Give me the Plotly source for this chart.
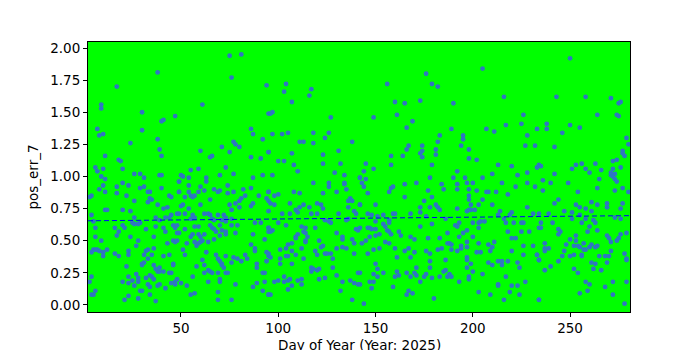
import numpy as np
import plotly.graph_objects as go

# ---- data (day of year, pos_err_7) ----
days_a = [38,17,9,9,30,47,41,40,7,30,8,10,38,24,39,11,40,18,19,6,20,10,7,9,26,29,31,11,20,23,10,8,17,29,31,49,39,40,40,11,17,4,3,33,34,22,44,45,49,35,34,33,26,38,41,43,11,12,20,24,4,45,44,42,48,26,37,39,5,25,26,29,28,6,16,20,21,37,46,47,48,41,42,32,18,17,48,24,6,9,36,28,46,47,48,43,27,36,5,4,7,8,6,10,10,12,16,18,23,23,33,32,31,33,35,41,44,30,30,31,22,36,37,39,38,41,39,46,46,45,44,34,35,36,27,28,28,23,23,25,32,33,34,38,39,42,47,48,47,20,4,3,6,26,29,30,4,5,23,21,28,37,34,45]
vals_a = [1.81,1.70,1.56,1.53,1.50,1.47,1.44,1.43,1.37,1.36,1.32,1.33,1.29,1.26,1.21,1.16,1.16,1.13,1.12,1.07,1.06,1.06,1.04,1.00,1.02,1.02,0.99,0.98,0.95,0.93,0.93,0.90,0.92,0.91,0.92,0.96,1.01,1.01,0.91,0.88,0.87,0.85,0.84,0.88,0.88,0.85,0.85,0.84,0.88,0.82,0.83,0.80,0.81,0.78,0.75,0.76,0.74,0.74,0.74,0.73,0.70,0.70,0.68,0.68,0.71,0.68,0.68,0.66,0.65,0.64,0.63,0.64,0.63,0.60,0.60,0.62,0.60,0.61,0.62,0.60,0.62,0.60,0.57,0.59,0.57,0.54,0.56,0.53,0.53,0.50,0.53,0.50,0.50,0.49,0.50,0.48,0.46,0.44,0.43,0.41,0.43,0.42,0.43,0.41,0.38,0.43,0.40,0.38,0.42,0.39,0.43,0.42,0.39,0.36,0.39,0.38,0.39,0.32,0.31,0.33,0.30,0.31,0.28,0.29,0.26,0.26,0.26,0.32,0.31,0.25,0.25,0.23,0.22,0.20,0.24,0.21,0.18,0.22,0.17,0.19,0.21,0.16,0.14,0.15,0.16,0.13,0.18,0.20,0.16,0.18,0.22,0.18,0.11,0.15,0.11,0.11,0.08,0.08,0.07,0.04,0.05,0.03,0.08,0.17]

days_b = [75,81,76,94,61,95,86,87,92,77,78,80,60,71,75,66,65,86,91,95,73,55,59,77,50,51,54,70,92,87,63,63,49,74,54,60,62,67,69,70,82,86,77,49,54,55,56,57,59,74,95,52,65,83,81,80,90,94,51,50,60,75,78,80,76,86,87,54,95,49,52,56,62,64,65,69,72,73,55,57,66,67,71,73,76,88,91,57,59,65,66,70,76,79,52,49,67,68,71,73,95,95,56,55,59,62,60,70,73,78,87,61,60,59,64,67,53,57,58,93,86,88,88,51,52,63,68,73,77,79,81,83,84,94,95,94,61,62,58,69,70,71,71,72,76,89,89,92,93,62,64,65,66,69,73,74,56,70,70,64,50,53,78,89,87,93,92,55,57,69,69,76,95]
vals_b = [1.94,1.95,1.77,1.71,1.56,1.49,1.37,1.33,1.29,1.27,1.25,1.23,1.20,1.23,1.19,1.16,1.15,1.15,1.14,1.19,1.07,1.05,1.06,1.02,1.01,1.00,0.99,1.01,1.01,0.99,0.99,0.96,0.96,0.93,0.93,0.92,0.89,0.90,0.88,0.89,0.90,0.91,0.88,0.88,0.88,0.85,0.84,0.85,0.88,0.87,0.88,0.84,0.82,0.85,0.83,0.81,0.85,0.83,0.78,0.77,0.78,0.78,0.79,0.76,0.74,0.77,0.79,0.75,0.73,0.71,0.71,0.70,0.71,0.71,0.70,0.70,0.70,0.68,0.67,0.68,0.67,0.66,0.66,0.65,0.67,0.64,0.64,0.61,0.61,0.62,0.60,0.62,0.62,0.62,0.59,0.56,0.59,0.57,0.58,0.57,0.60,0.57,0.55,0.53,0.55,0.55,0.53,0.54,0.55,0.56,0.55,0.50,0.49,0.48,0.49,0.51,0.48,0.49,0.46,0.51,0.47,0.44,0.42,0.43,0.39,0.41,0.39,0.38,0.37,0.36,0.34,0.39,0.36,0.41,0.38,0.34,0.35,0.31,0.30,0.36,0.34,0.32,0.31,0.29,0.33,0.32,0.29,0.25,0.25,0.25,0.27,0.26,0.25,0.25,0.25,0.25,0.22,0.20,0.18,0.18,0.17,0.15,0.16,0.17,0.14,0.18,0.11,0.08,0.09,0.10,0.04,0.04,0.08]

days_c = [104,103,117,116,107,97,96,127,118,126,97,102,105,124,111,113,118,138,95,107,123,131,100,103,123,132,108,110,129,134,97,118,126,126,134,134,135,142,95,108,111,123,130,100,98,137,136,138,95,106,96,98,120,122,123,142,113,111,116,109,136,139,140,102,106,110,117,120,131,124,126,127,135,136,100,104,95,97,96,112,114,113,119,140,141,110,109,109,114,115,114,114,130,133,133,121,139,138,107,105,104,112,123,122,130,133,135,101,119,120,107,109,105,104,124,125,127,139,95,96,101,113,128,101,107,117,117,120,121,118,128,130,141,121,124,98,100,103,103,105,106,110,112,112,137,139,141,133,105,107,132,96,95,138]
vals_c = [1.72,1.66,1.68,1.63,1.58,1.50,1.49,1.46,1.34,1.34,1.33,1.33,1.34,1.30,1.27,1.27,1.26,1.27,1.19,1.18,1.17,1.20,1.12,1.12,1.10,1.10,1.09,1.04,1.03,1.01,1.01,0.95,0.95,0.92,0.95,0.94,0.90,0.99,0.88,0.88,0.87,0.87,0.88,0.86,0.85,0.83,0.81,0.81,0.81,0.79,0.79,0.78,0.79,0.78,0.75,0.78,0.78,0.76,0.76,0.74,0.76,0.73,0.71,0.71,0.71,0.72,0.71,0.71,0.71,0.66,0.65,0.64,0.66,0.67,0.64,0.62,0.60,0.58,0.57,0.61,0.60,0.57,0.60,0.59,0.58,0.55,0.53,0.52,0.56,0.53,0.50,0.49,0.56,0.53,0.51,0.50,0.48,0.51,0.48,0.47,0.44,0.44,0.46,0.45,0.44,0.45,0.44,0.43,0.42,0.39,0.42,0.39,0.38,0.38,0.40,0.40,0.40,0.40,0.40,0.37,0.36,0.36,0.36,0.32,0.32,0.29,0.26,0.27,0.28,0.28,0.29,0.23,0.25,0.20,0.21,0.18,0.19,0.22,0.18,0.19,0.20,0.19,0.20,0.16,0.19,0.17,0.16,0.18,0.12,0.15,0.11,0.08,0.08,0.04]

days_d = [176,156,179,182,160,165,173,149,161,169,166,183,182,181,181,167,166,164,174,174,173,174,158,158,145,144,149,179,142,145,143,144,178,171,165,159,158,157,177,184,185,146,179,165,175,181,182,183,142,150,173,178,173,159,160,146,148,151,154,168,176,157,157,150,142,146,147,148,150,154,155,156,157,158,173,179,186,187,162,163,147,150,152,168,170,177,183,145,143,155,157,187,152,149,146,160,165,167,170,176,178,182,184,161,168,186,178,178,150,151,149,154,171,170,171,142,161,160,162,166,168,175,176,173,179,185,186,183,187,151,149,147,142,148,159,167,169,166,180,144]
vals_d = [1.80,1.72,1.72,1.70,1.58,1.57,1.59,1.46,1.48,1.43,1.38,1.32,1.27,1.21,1.17,1.24,1.21,1.16,1.24,1.20,1.18,1.15,1.16,1.09,1.10,1.04,1.06,1.09,0.99,0.98,0.95,0.92,0.99,0.95,0.94,0.92,0.91,0.88,0.89,0.94,0.90,0.87,0.84,0.84,0.81,0.78,0.76,0.74,0.78,0.78,0.76,0.76,0.72,0.71,0.71,0.71,0.70,0.69,0.70,0.71,0.69,0.66,0.64,0.65,0.60,0.60,0.60,0.59,0.59,0.63,0.61,0.58,0.57,0.55,0.61,0.63,0.67,0.56,0.57,0.54,0.53,0.54,0.55,0.53,0.51,0.52,0.52,0.50,0.48,0.49,0.48,0.48,0.44,0.43,0.40,0.44,0.42,0.44,0.41,0.42,0.40,0.43,0.44,0.37,0.37,0.35,0.34,0.29,0.32,0.28,0.24,0.25,0.29,0.25,0.23,0.25,0.26,0.22,0.23,0.25,0.22,0.22,0.24,0.18,0.21,0.26,0.27,0.22,0.22,0.22,0.18,0.18,0.16,0.13,0.14,0.11,0.09,0.08,0.05,0.01]

days_e = [205,216,190,226,225,189,207,211,217,233,195,195,194,228,227,232,198,198,202,213,220,233,234,192,190,196,205,210,223,228,192,192,197,200,215,228,222,232,198,202,212,207,208,198,198,205,218,199,203,210,201,199,192,197,198,228,214,213,220,219,231,234,216,217,221,225,226,193,191,192,200,203,204,206,203,197,195,193,200,218,225,229,234,220,222,188,189,189,194,194,192,197,197,203,208,210,209,211,226,231,202,204,220,226,233,197,197,199,197,234,208,210,213,215,215,218,223,224,200,205,188,189,198,198,193,217,220,223,227,213,213,203,209,219,224,216,234]
vals_e = [1.84,1.62,1.57,1.48,1.41,1.37,1.37,1.35,1.40,1.37,1.32,1.29,1.24,1.32,1.24,1.24,1.21,1.14,1.13,1.09,1.08,1.07,1.09,1.04,0.99,0.99,0.99,1.02,1.01,1.03,0.94,0.90,0.95,0.95,0.95,0.95,0.92,0.92,0.90,0.89,0.88,0.88,0.88,0.85,0.82,0.82,0.86,0.78,0.78,0.78,0.74,0.74,0.75,0.73,0.74,0.76,0.73,0.70,0.72,0.70,0.71,0.71,0.67,0.64,0.64,0.64,0.64,0.64,0.62,0.61,0.64,0.64,0.65,0.65,0.60,0.58,0.56,0.53,0.53,0.57,0.57,0.57,0.60,0.52,0.52,0.48,0.47,0.43,0.46,0.44,0.42,0.49,0.45,0.48,0.47,0.45,0.42,0.49,0.46,0.46,0.41,0.41,0.42,0.39,0.39,0.37,0.35,0.32,0.29,0.35,0.33,0.31,0.34,0.34,0.31,0.34,0.33,0.29,0.26,0.24,0.24,0.22,0.22,0.20,0.18,0.22,0.15,0.15,0.18,0.16,0.15,0.10,0.08,0.10,0.08,0.04,0.04]

days_f = [250,243,258,271,275,276,264,274,275,238,238,250,255,246,279,280,242,277,277,278,272,274,276,235,251,253,256,258,260,263,266,272,271,271,273,272,273,274,242,236,240,265,249,264,277,236,254,280,244,242,261,264,273,269,269,277,276,253,255,258,247,251,239,255,261,251,256,258,262,263,260,273,276,235,235,241,244,245,244,259,264,276,279,250,253,269,270,271,274,275,237,248,252,253,254,255,257,257,258,261,260,263,264,237,237,239,247,246,250,252,256,256,233,234,271,265,268,270,269,278,279,279,244,261,263,237,240,252,254,262,266,258,260,259,268,272,272,279,255,234,278]
vals_f = [1.92,1.62,1.62,1.61,1.57,1.58,1.48,1.48,1.47,1.41,1.37,1.40,1.38,1.34,1.30,1.25,1.23,1.20,1.18,1.16,1.12,1.13,1.07,1.08,1.06,1.09,1.10,1.06,1.03,1.10,1.05,1.06,1.03,1.01,1.02,1.00,0.98,0.96,1.02,0.97,0.95,0.98,0.95,0.91,0.91,0.89,0.88,0.88,0.82,0.79,0.80,0.78,0.89,0.79,0.76,0.79,0.75,0.78,0.76,0.75,0.73,0.72,0.71,0.70,0.73,0.67,0.64,0.67,0.66,0.64,0.61,0.68,0.67,0.64,0.60,0.64,0.59,0.57,0.55,0.57,0.58,0.55,0.56,0.51,0.54,0.54,0.52,0.49,0.50,0.52,0.48,0.47,0.46,0.50,0.46,0.45,0.48,0.43,0.43,0.47,0.45,0.45,0.46,0.44,0.42,0.44,0.42,0.38,0.38,0.39,0.39,0.38,0.39,0.35,0.42,0.38,0.38,0.38,0.33,0.40,0.36,0.35,0.34,0.33,0.32,0.27,0.30,0.28,0.25,0.28,0.27,0.18,0.16,0.11,0.14,0.18,0.08,0.18,0.09,0.04,0.01]

days = np.array(days_a + days_b + days_c + days_d + days_e + days_f, dtype=float)
vals = np.array(vals_a + vals_b + vals_c + vals_d + vals_e + vals_f, dtype=float)

x_range = [2.2, 280.8]
y_range = [-0.055, 2.047]

# linear trend fit parameters
trend_slope = 0.0001436
trend_intercept = 0.6547

trend_x = np.array(x_range)
trend_y = trend_slope * trend_x + trend_intercept

fig = go.Figure()
fig.add_trace(go.Scatter(
    x=days, y=vals, mode="markers",
    marker=dict(size=4.8, color="#2f76c2", line=dict(width=0)),
    showlegend=False, hoverinfo="skip"))
fig.add_trace(go.Scatter(
    x=trend_x, y=trend_y, mode="lines",
    line=dict(color="#0000ff", width=1, dash="5px,3px"),
    showlegend=False, hoverinfo="skip"))

axis_common = dict(
    showline=True, linecolor="black", linewidth=1, mirror=True,
    ticks="outside", ticklen=4, tickwidth=1, tickcolor="black",
    showgrid=False, zeroline=False,
    tickfont=dict(family="DejaVu Sans", size=13.5, color="black"),
)

fig.update_layout(
    width=700, height=350,
    margin=dict(l=88, r=70, t=42, b=38),
    paper_bgcolor="white", plot_bgcolor="#00ff00",
    font=dict(family="DejaVu Sans", size=13.5, color="black"),
    xaxis=dict(range=x_range, tickvals=[50, 100, 150, 200, 250],
               automargin=False, **axis_common),
    yaxis=dict(range=y_range, tickvals=[0, 0.25, 0.5, 0.75, 1.0, 1.25, 1.5, 1.75, 2.0],
               tickformat=".2f",
               title=dict(text="pos_err_7", standoff=8,
                          font=dict(family="DejaVu Sans", size=13.5)),
               automargin=False, **axis_common),
    annotations=[dict(
        text="Day of Year (Year: 2025)", xref="paper", yref="paper",
        x=0.5, y=-0.124, xanchor="center", yanchor="middle",
        showarrow=False, font=dict(family="DejaVu Sans", size=13.5, color="black"))],
)

fig.write_html("out.html")
